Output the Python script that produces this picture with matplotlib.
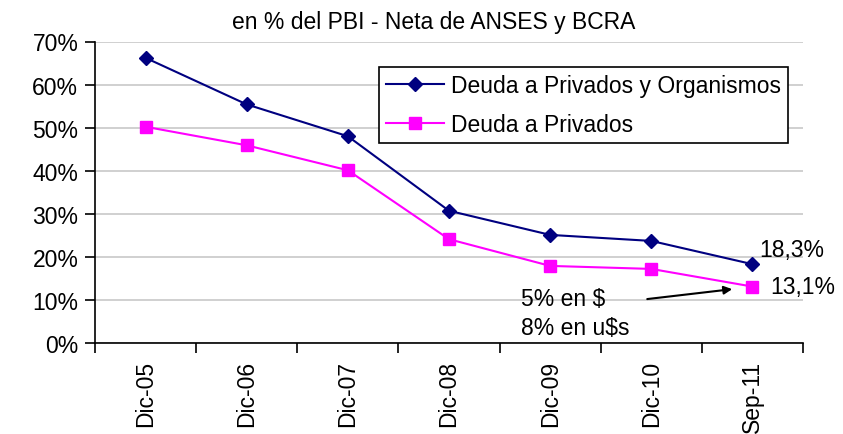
import matplotlib
matplotlib.use("Agg")
import matplotlib.pyplot as plt
from matplotlib.ticker import FixedLocator, NullFormatter

categories = ["Dic-05", "Dic-06", "Dic-07", "Dic-08", "Dic-09", "Dic-10", "Sep-11"]
deuda_total = [66.2, 55.4, 48.0, 30.7, 25.1, 23.7, 18.3]
deuda_privados = [50.2, 45.9, 40.1, 24.1, 17.9, 17.2, 13.1]
yticks = [0, 10, 20, 30, 40, 50, 60, 70]
ytick_labels = [f"{v}%" for v in yticks]
title = "en % del PBI - Neta de ANSES y BCRA"
label_total = "Deuda a Privados y Organismos"
label_priv = "Deuda a Privados"

plt.rcParams['font.family'] = ['Liberation Sans', 'DejaVu Sans']
FS = 16.5

fig = plt.figure(figsize=(8.43, 4.35), dpi=100)
ax = fig.add_axes([95/843, 1 - 344/435, 708/843, (344 - 42.5)/435])

x = list(range(len(categories)))
ax.plot(x, deuda_total, color="#000080", marker="D", markersize=7.5, linewidth=1.5,
        label=label_total, zorder=3)
ax.plot(x, deuda_privados, color="#FF00FF", marker="s", markersize=8, linewidth=1.5,
        label=label_priv, zorder=3)

ax.set_xlim(-0.5, len(categories) - 0.5)
ax.set_ylim(0, 70)
ax.set_yticks(yticks)
ax.set_yticklabels(ytick_labels, fontsize=FS)
ax.yaxis.grid(True, color="#c8c8c8", linewidth=1.2)
ax.set_axisbelow(True)

ax.xaxis.set_major_locator(FixedLocator([i - 0.5 for i in range(len(categories) + 1)]))
ax.xaxis.set_major_formatter(NullFormatter())
ax.xaxis.set_minor_locator(FixedLocator(x))
ax.set_xticklabels(categories, minor=True, rotation=90, fontsize=FS)
ax.tick_params(axis="x", which="minor", length=0, pad=12)
ax.tick_params(axis="x", which="major", length=7, width=1.2, direction="out")
ax.tick_params(axis="y", length=7, width=1.2, direction="out", pad=5)

for s in ["top", "right"]:
    ax.spines[s].set_visible(False)
for s in ["left", "bottom"]:
    ax.spines[s].set_linewidth(1.2)
    ax.spines[s].set_color("black")

fig.text(434/843, 1 - 22/435, title, ha="center", va="center", fontsize=FS)

leg = ax.legend(loc="upper left", bbox_to_anchor=((379 - 95)/708, (344 - 68)/301.5),
                fontsize=FS, frameon=True, fancybox=False, framealpha=1, handlelength=2.55,
                borderpad=0.3, labelspacing=0.7, handletextpad=0.28, borderaxespad=0)
leg.get_frame().set_edgecolor("black")
leg.get_frame().set_linewidth(1.2)

ax.text(6.07, 21.8, "18,3%", fontsize=FS, ha="left", va="center")
ax.text(6.18, 13.2, "13,1%", fontsize=FS, ha="left", va="center")
ax.text(3.71, 10.4, "5% en $", fontsize=FS, ha="left", va="center")
ax.text(3.71, 3.7, "8% en u$s", fontsize=FS, ha="left", va="center")
ax.annotate("", xy=(5.8, 12.5), xytext=(4.96, 10.2),
            arrowprops=dict(arrowstyle="-|>", color="black", lw=1.5, mutation_scale=12,
                            shrinkA=0, shrinkB=0))

fig.savefig("out.png", dpi=100)
